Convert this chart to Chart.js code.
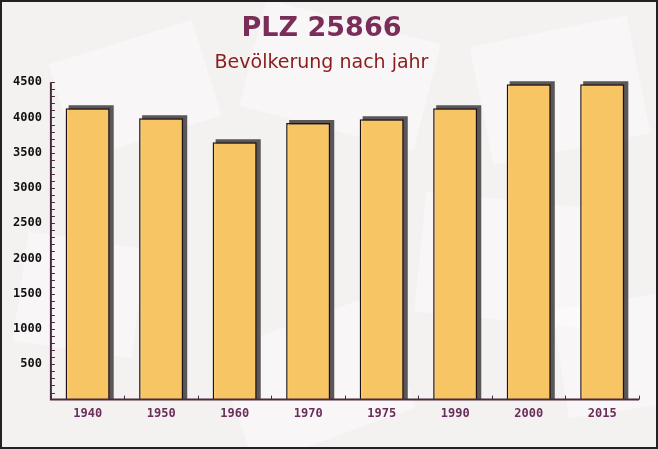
<!DOCTYPE html>
<html lang="de">
<head>
	<meta charset="UTF-8">
	<title>PLZ 25866</title>
	<script src="https://cdn.jsdelivr.net/npm/chart.js@4/dist/chart.umd.min.js"></script>
	<style>
		html,body{margin:0;padding:0;background:#f4f1f1;overflow:hidden;}
		.box{width:658px;height:449px;position:relative;}
		canvas{display:block;}
	</style>
</head>
<body>
	<div class="box">
		<canvas id="myChart" width="658" height="449"></canvas>
	</div>
</body>
<script>
	// Jahre und Einwohner
	var jahre = ["1940", "1950", "1960", "1970", "1975", "1990", "2000", "2015"];
	var einwohner = [4130, 3990, 3650, 3920, 3975, 4130, 4470, 4470];
	var yTicks = [500, 1000, 1500, 2000, 2500, 3000, 3500, 4000, 4500];

	// Hintergrund, Rahmen, Schatten und Striche
	var deko = {
		id: "deko",
		beforeDraw: function(chart){
			var c = chart.ctx;
			c.save();
			c.fillStyle = "#f4f1f1";
			c.fillRect(0, 0, chart.width, chart.height);
			// blasse Umschläge im Hintergrund
			var boxes = [[60,40,150,100,-0.3],[250,20,180,110,0.25],[480,30,160,120,-0.2],
				[20,240,120,110,0.15],[230,320,170,120,-0.35],[420,200,170,120,0.1],[560,300,120,110,-0.15]];
			c.fillStyle = "rgba(255,255,255,0.4)";
			boxes.forEach(function(b){
				c.save();
				c.translate(b[0] + b[2]/2, b[1] + b[3]/2);
				c.rotate(b[4]);
				c.fillRect(-b[2]/2, -b[3]/2, b[2], b[3]);
				c.restore();
			});
			c.restore();
		},
		beforeDatasetsDraw: function(chart){
			var c = chart.ctx;
			var meta = chart.getDatasetMeta(0);
			c.save();
			c.fillStyle = "#5b5658";
			meta.data.forEach(function(bar){
				var l = bar.x - bar.width/2, t = bar.y;
				c.beginPath();
				c.moveTo(l + 3, t - 3);
				c.lineTo(l + bar.width + 4, t - 3);
				c.lineTo(l + bar.width + 4, bar.base);
				c.lineTo(l + 3, bar.base);
				c.closePath();
				c.fill();
			});
			c.restore();
		},
		afterDraw: function(chart){
			var c = chart.ctx, a = chart.chartArea;
			var ys = chart.scales.y;
			c.save();
			c.strokeStyle = "#4a2a3e";
			c.lineWidth = 1;
			c.beginPath();
			for (var v = 100; v <= 4500; v += 100) {
				var py = Math.round(ys.getPixelForValue(v)) + 0.5;
				c.moveTo(a.left, py);
				c.lineTo(a.left + 4, py);
			}
			for (var i = 0; i <= jahre.length; i++) {
				var px = Math.round(a.left + (a.right - a.left) * i / jahre.length) + 0.5;
				c.moveTo(px, a.bottom);
				c.lineTo(px, a.bottom - 4);
			}
			c.stroke();
			c.lineWidth = 2;
			c.beginPath();
			c.moveTo(a.left, a.top);
			c.lineTo(a.left, a.bottom);
			c.lineTo(a.right, a.bottom);
			c.stroke();
			c.strokeStyle = "#222";
			c.strokeRect(1, 1, chart.width - 2, chart.height - 2);
			c.restore();
		}
	};

	var ctx = document.getElementById("myChart");
	var myChart = new Chart(ctx, {
		type: "bar",
		data: {
			labels: jahre,
			datasets: [{
				data: einwohner,
				backgroundColor: "rgba(253,200,100,0.97)",
				borderColor: "#1e1216",
				borderWidth: { left: 1.5, right: 1.5, top: 1.5, bottom: 0 },
				barPercentage: 0.6,
				categoryPercentage: 1
			}]
		},
		options: {
			responsive: false,
			animation: false,
			devicePixelRatio: 1,
			layout: { padding: { left: 4, right: 19, top: 0, bottom: 21 } },
			plugins: {
				legend: { display: false },
				tooltip: { enabled: false },
				title: {
					display: true,
					text: "PLZ 25866",
					color: "#7b2d5a",
					font: { family: "DejaVu Sans", size: 27, weight: "bold" },
					padding: { top: 13, bottom: 2 }
				},
				subtitle: {
					display: true,
					text: "Bevölkerung nach jahr",
					color: "#8a1c1c",
					font: { family: "DejaVu Sans", size: 19 },
					padding: { top: 4, bottom: 8 }
				}
			},
			scales: {
				x: {
					grid: { display: false, drawTicks: false },
					border: { display: false },
					ticks: {
						color: "#6b2d5a",
						maxRotation: 0,
						font: { family: "DejaVu Sans Mono", size: 12, weight: "bold" },
						padding: 7
					}
				},
				y: {
					min: 0,
					max: 4500,
					afterBuildTicks: function(axis){
						axis.ticks = yTicks.map(function(v){ return { value: v }; });
					},
					grid: { display: false, drawTicks: false },
					border: { display: false },
					ticks: {
						color: "#111",
						font: { family: "DejaVu Sans Mono", size: 12, weight: "bold" },
						padding: 9,
						callback: function(v){ return String(v); }
					}
				}
			}
		},
		plugins: [deko]
	});
</script>
</html>
